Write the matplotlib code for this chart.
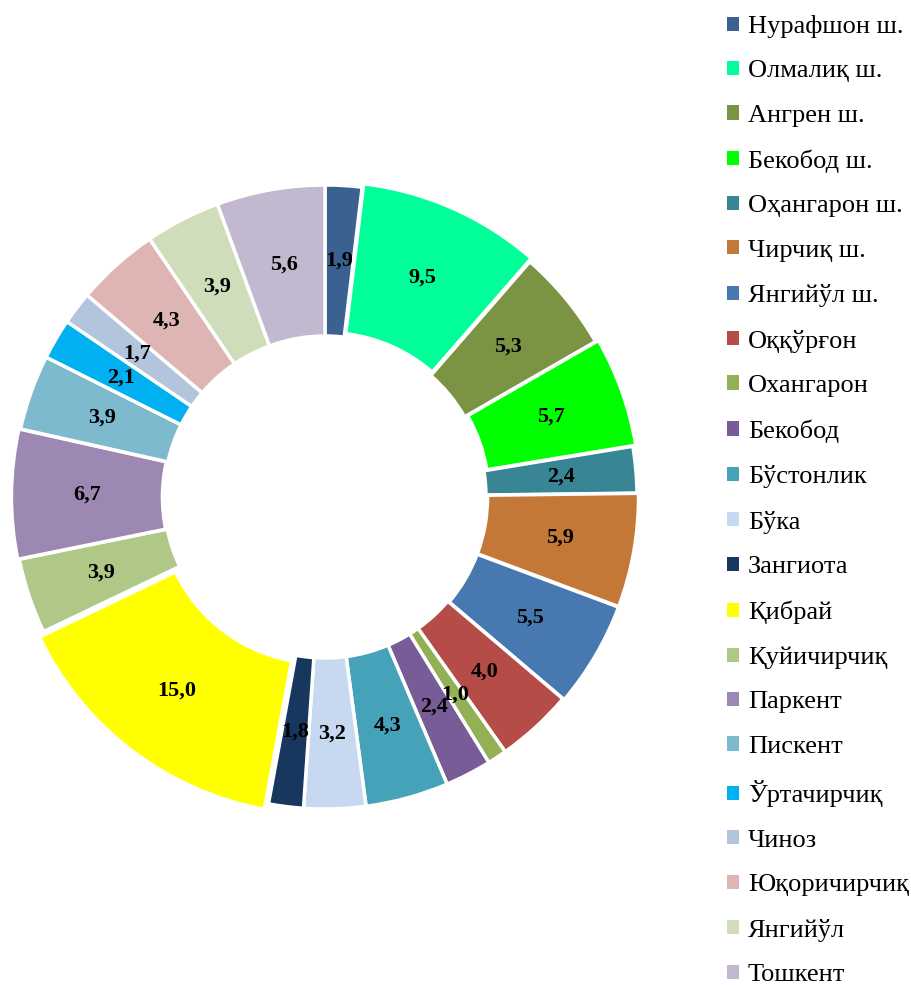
import matplotlib
matplotlib.use("Agg")
import matplotlib.pyplot as plt
from matplotlib.patches import Patch

categories = ["Нурафшон ш.", "Олмалиқ ш.", "Ангрен ш.", "Бекобод ш.", "Оҳангарон ш.",
              "Чирчиқ ш.", "Янгийўл ш.", "Оққўрғон", "Охангарон", "Бекобод",
              "Бўстонлик", "Бўка", "Зангиота", "Қибрай", "Қуйичирчиқ", "Паркент",
              "Пискент", "Ўртачирчиқ", "Чиноз", "Юқоричирчиқ", "Янгийўл", "Тошкент"]
values = [1.9, 9.5, 5.3, 5.7, 2.4, 5.9, 5.5, 4.0, 1.0, 2.4, 4.3, 3.2, 1.8, 15.0,
          3.9, 6.7, 3.9, 2.1, 1.7, 4.3, 3.9, 5.6]
colors = ["#3A6190", "#00FF99", "#7A9444", "#00FF00", "#388595", "#C47838",
          "#4878B0", "#B54C48", "#93B055", "#775C97", "#46A2B9", "#C6D9F0",
          "#17375E", "#FFFF00", "#AFC787", "#9D88B3", "#7DBACE", "#00B0F0",
          "#B3C4DD", "#DFB5B4", "#CFDDBB", "#C2B8CF"]
explode = [0, 0.012, 0, 0.01, 0, 0.005, 0.005, 0, 0, 0, 0, 0, 0, 0.022,
           0, 0.005, 0, 0, 0, 0, 0, 0]

plt.rcParams['font.family'] = ['Liberation Serif', 'DejaVu Serif']

W, H = 912, 985
fig = plt.figure(figsize=(W / 100, H / 100), dpi=100)
cx, cy, R = 325, 497, 312
lim = 1.06
side = 2 * R * lim
ax = fig.add_axes([(cx - side / 2) / W, (H - cy - side / 2) / H, side / W, side / H])

labels_txt = iter([f"{v:.1f}".replace(".", ",") for v in values])
wedges, texts, autotexts = ax.pie(
    values, colors=colors, startangle=90, counterclock=False, explode=explode,
    radius=1.0, autopct=lambda p: next(labels_txt), pctdistance=0.758,
    wedgeprops=dict(width=0.484, edgecolor="white", linewidth=2.5),
    textprops=dict(fontsize=16, fontweight="bold", color="black"))
ax.set_xlim(-lim, lim)
ax.set_ylim(-lim, lim)
ax.set_aspect("equal")
ax.axis("off")

handles = [Patch(facecolor=c, edgecolor="none") for c in colors]
fig.legend(handles, categories, loc="upper left", bbox_to_anchor=(727 / W, 1 - 15 / H),
           frameon=False, fontsize=19, labelspacing=0.85, handlelength=0.45,
           handleheight=0.45, handletextpad=0.34, borderaxespad=0, borderpad=0)

fig.savefig("out.png", dpi=100)
